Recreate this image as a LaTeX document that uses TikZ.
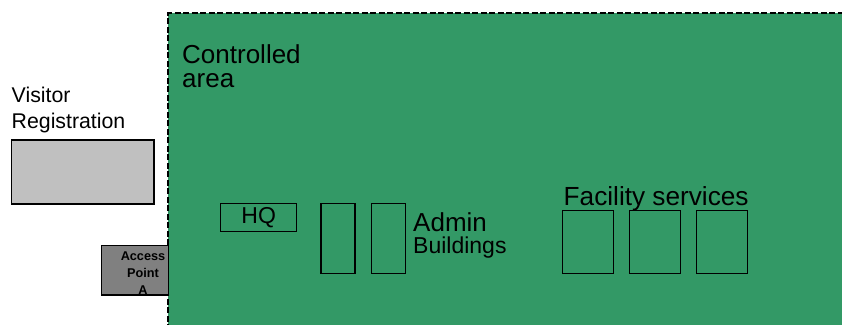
\documentclass[tikz,border=0pt]{standalone}
\usepackage{fontspec}
\setmainfont{Liberation Sans}
\definecolor{areagreen}{HTML}{339966}
\definecolor{lightgraybox}{HTML}{C0C0C0}
\definecolor{darkgraybox}{HTML}{808080}
\newcommand\leftlines[1]{\vtop{\halign{##\hfil\cr#1\crcr}}}
\newcommand\centerlines[1]{\vtop{\halign{\hfil##\hfil\cr#1\crcr}}}
\tikzset{
  bldg/.style={draw=black, line width=1.1pt, inner sep=0pt},
  lbl/.style={inner sep=0pt, anchor=base west, text=black},
  areaborder/.style={draw=black, line width=2pt, dash pattern=on 6pt off 2.5pt}
}
\begin{document}
\begin{tikzpicture}[x=1pt,y=-1pt]
\useasboundingbox (0,0) rectangle (842,324);
% controlled area
\fill[areagreen] (168.3,13.3) rectangle (850,330);
\coordinate (areaBL) at (168.3,330);
\coordinate (areaTL) at (168.3,13.3);
\coordinate (areaTR) at (850,13.3);
\draw[areaborder] (areaBL) -- (areaTL) -- (areaTR);
\node[lbl, font=\fontsize{26}{24}\selectfont] (arealbl) at (182,63.3) {\leftlines{Controlled\cr area}};
% visitor registration
\node[lbl, font=\fontsize{21.3}{25.6}\selectfont] (vislbl) at (11.5,102.7) {\leftlines{Visitor\cr Registration}};
\node[bldg, fill=lightgraybox, minimum width=142.3pt, minimum height=64pt] (visbox) at (82.85,172) {};
% access point
\node[bldg, fill=darkgraybox, minimum width=66.6pt, minimum height=49.3pt] (access) at (135,270.35) {};
\node[inner sep=0pt, anchor=base, font=\fontsize{12.7}{16.7}\selectfont\bfseries] (accesslbl) at (143,260.7) {\centerlines{Access\cr Point\cr A}};
% HQ
\node[bldg, minimum width=76pt, minimum height=28.4pt, font=\fontsize{23}{26}\selectfont] (hq) at (258.7,217.5) {HQ};
% admin buildings
\node[bldg, minimum width=34pt, minimum height=70pt] (admin1) at (338,238.3) {};
\node[bldg, minimum width=34pt, minimum height=70pt] (admin2) at (388.5,238.3) {};
\node[lbl, font=\fontsize{23}{21.6}\selectfont] (adminlbl) at (413,231.7) {\leftlines{{\fontsize{26}{21.6}\selectfont Admin}\cr Buildings}};
% facility services
\node[lbl, font=\fontsize{26.2}{28}\selectfont] (faclbl) at (563.5,205) {Facility services};
\node[bldg, minimum width=50.7pt, minimum height=63pt] (fac1) at (587.7,242.2) {};
\node[bldg, minimum width=50.7pt, minimum height=63pt] (fac2) at (654.7,242.2) {};
\node[bldg, minimum width=50.7pt, minimum height=63pt] (fac3) at (721.7,242.2) {};
\end{tikzpicture}
\end{document}
